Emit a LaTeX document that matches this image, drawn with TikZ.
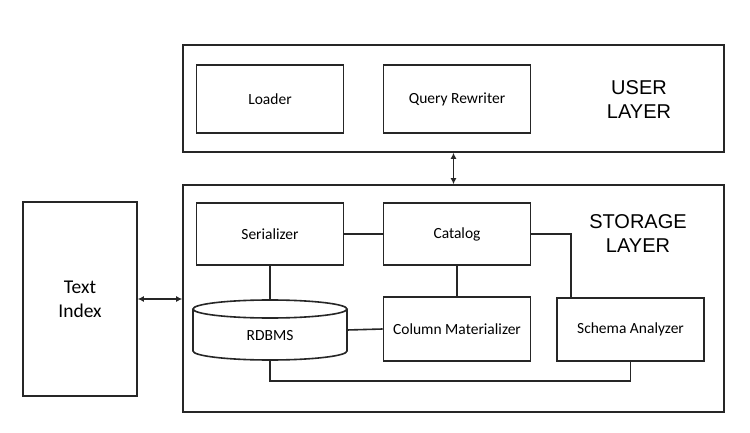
\documentclass[tikz,border=0pt]{standalone}
\usepackage{fontspec}
\setmainfont{Carlito}
\newfontfamily\arialfont{Liberation Sans}
\usetikzlibrary{arrows.meta,calc}
\begin{document}
\begin{tikzpicture}[x=1pt,y=1pt,line width=1.6pt,
  box/.style={draw=black!85,rectangle,inner sep=0pt,font=\fontsize{15.5}{18}\selectfont},
  layer/.style={draw=black!85,rectangle,inner sep=0pt},
  layertext/.style={font=\arialfont\fontsize{20}{24}\selectfont,align=center,inner sep=0pt},
  conn/.style={draw=black!85,line width=1.6pt},
  dbl/.style={conn,{Latex[length=6pt,width=6pt]}-{Latex[length=6pt,width=6pt]}}]
\useasboundingbox (0,0) rectangle (750,-433);
\fill[white] (0,0) rectangle (750,-433);
% layers
\node[layer,minimum width=541,minimum height=107] (user) at (453.5,-98.5) {};
\node[layer,minimum width=541,minimum height=227] (storage) at (453.5,-298.5) {};
\node[layertext] (usertext) at (639,-100) {USER\\LAYER};
\node[layertext] (storagetext) at (638,-234) {STORAGE\\LAYER};
% user layer boxes
\node[box,minimum width=147,minimum height=68] (loader) at (270,-99) {Loader};
\node[box,minimum width=147,minimum height=68] (qr) at (457,-99) {Query Rewriter};
% storage boxes
\node[box,minimum width=147,minimum height=62] (serializer) at (270,-234) {Serializer};
\node[box,minimum width=147,minimum height=62] (catalog) at (457,-234) {Catalog};
\node[box,minimum width=147,minimum height=64] (colmat) at (457,-329) {Column Materializer};
\node[box,minimum width=147,minimum height=63] (schema) at (630.5,-329.5) {Schema Analyzer};
% RDBMS cylinder
\node[rectangle,inner sep=0pt,outer sep=0pt,minimum width=154,minimum height=60] (rdbms) at (270,-330) {};
\draw[black!85] ([yshift=-9pt]rdbms.north) ellipse [x radius=77pt, y radius=9pt];
\draw[black!85] ([yshift=-9pt]rdbms.north west) -- ([yshift=9pt]rdbms.south west)
  arc[start angle=180,end angle=360,x radius=77pt,y radius=9pt] -- ([yshift=-9pt]rdbms.north east);
\node[font=\fontsize{15.5}{18}\selectfont,inner sep=0pt] (rdbmstext) at (270,-336) {RDBMS};
% text index
\node[box,minimum width=114,minimum height=194,align=center,font=\fontsize{19.5}{24}\selectfont] (textindex) at (80,-299) {Text\\Index};
% connectors
\draw[conn] (serializer.east) -- (catalog.west);
\draw[conn] (serializer.south) -- (rdbms.north);
\draw[conn] (catalog.south) -- (colmat.north);
\draw[conn] (rdbms.east) -- (colmat.west);
\draw[conn] (catalog.east) -| ([xshift=-59.5pt]schema.north);
\draw[conn] (rdbms.south) -- ++(0,-21) -| (schema.south);
\draw[dbl] (textindex.east) -- (storage.west |- textindex.east);
\draw[dbl] (user.south) -- (storage.north);
\end{tikzpicture}
\end{document}
